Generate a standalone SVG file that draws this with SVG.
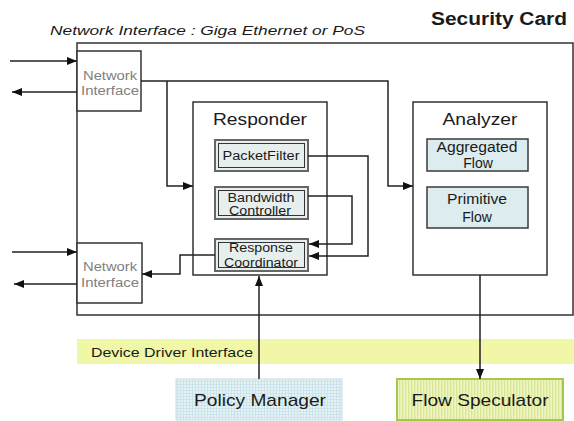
<svg xmlns="http://www.w3.org/2000/svg" width="574" height="421" viewBox="0 0 574 421">
  <style>
    text { font-family: "Liberation Sans", Arial, sans-serif; fill: #1a1a1a; }
    .box { fill: #ffffff; stroke: #333333; stroke-width: 1.5; }
    .ni-label { font-size: 12px; fill: #808080; text-anchor: middle; }
    .title { font-size: 16.5px; text-anchor: middle; }
    .sub-outer { fill: #e6eeee; stroke: #666666; stroke-width: 2; }
    .sub-inner { fill: none; stroke: #333333; stroke-width: 1; }
    .sub-label { font-size: 12px; text-anchor: middle; }
    .flow { fill: #dcecef; stroke: #3a3a3a; stroke-width: 1.5; }
    .flow-label { font-size: 14px; text-anchor: middle; }
    .conn { fill: none; stroke: #222222; stroke-width: 1.5; }
    .ext-label { font-size: 17px; text-anchor: middle; }
  </style>
  <defs>
    <marker id="arrow" viewBox="0 0 10 8" refX="10" refY="4" markerWidth="10" markerHeight="8" markerUnits="userSpaceOnUse" orient="auto">
      <path d="M0,0 L10,4 L0,8 z" fill="#111111"/>
    </marker>
    <pattern id="grid" width="3" height="3" patternUnits="userSpaceOnUse">
      <rect width="3" height="3" fill="#e4f2f5"/>
      <path d="M0,0.5 H3 M0.5,0 V3" stroke="#bfdde4" stroke-width="0.6"/>
    </pattern>
    <pattern id="stripes" width="3" height="3" patternUnits="userSpaceOnUse">
      <rect width="3" height="3" fill="#eef5c0"/>
      <path d="M0.75,0 V3" stroke="#c9dc78" stroke-width="0.8"/>
    </pattern>
  </defs>

  <!-- headings -->
  <text x="50" y="35" font-size="13" font-style="italic" fill="#333333" textLength="315" lengthAdjust="spacingAndGlyphs">Network Interface : Giga Ethernet or PoS</text>
  <text x="431" y="25" font-size="18" font-weight="bold" textLength="136" lengthAdjust="spacingAndGlyphs">Security Card</text>

  <!-- security card frame -->
  <g id="security-card">
    <rect class="box" x="77" y="43" width="496" height="272"/>
  </g>

  <!-- device driver interface band -->
  <g id="device-driver-interface">
    <rect x="77" y="339" width="497" height="25" fill="#f0f7a6"/>
    <text x="91" y="357" font-size="13.5" textLength="162" lengthAdjust="spacingAndGlyphs">Device Driver Interface</text>
  </g>

  <g id="network-interface-top">
    <rect class="box" x="77" y="51" width="64" height="60"/>
    <text class="ni-label" x="110" y="80" textLength="54" lengthAdjust="spacingAndGlyphs">Network</text>
    <text class="ni-label" x="110" y="95" textLength="58" lengthAdjust="spacingAndGlyphs">Interface</text>
  </g>

  <g id="network-interface-bottom">
    <rect class="box" x="77" y="243" width="65" height="60"/>
    <text class="ni-label" x="110" y="271" textLength="54" lengthAdjust="spacingAndGlyphs">Network</text>
    <text class="ni-label" x="110" y="287" textLength="58" lengthAdjust="spacingAndGlyphs">Interface</text>
  </g>

  <g id="responder">
    <rect class="box" x="193" y="102" width="134" height="173"/>
    <text class="title" x="260" y="125" textLength="94" lengthAdjust="spacingAndGlyphs">Responder</text>
  </g>

  <g id="packet-filter">
    <rect class="sub-outer" x="215" y="140" width="93" height="31"/>
    <rect class="sub-inner" x="218.5" y="143.5" width="86" height="24"/>
    <text class="sub-label" x="261" y="159.5" textLength="77" lengthAdjust="spacingAndGlyphs">PacketFilter</text>
  </g>

  <g id="bandwidth-controller">
    <rect class="sub-outer" x="215" y="187" width="93" height="32"/>
    <rect class="sub-inner" x="218.5" y="190.5" width="86" height="25"/>
    <text class="sub-label" x="261" y="201.5" textLength="67" lengthAdjust="spacingAndGlyphs">Bandwidth</text>
    <text class="sub-label" x="260" y="214.5" textLength="62" lengthAdjust="spacingAndGlyphs">Controller</text>
  </g>

  <g id="response-coordinator">
    <rect class="sub-outer" x="215" y="239" width="93" height="32"/>
    <rect class="sub-inner" x="218.5" y="242.5" width="86" height="25"/>
    <text class="sub-label" x="261" y="251.5" textLength="64" lengthAdjust="spacingAndGlyphs">Response</text>
    <text class="sub-label" x="261" y="267" textLength="74" lengthAdjust="spacingAndGlyphs">Coordinator</text>
  </g>

  <g id="analyzer">
    <rect class="box" x="413" y="102" width="134" height="173"/>
    <text class="title" x="480" y="125" textLength="75" lengthAdjust="spacingAndGlyphs">Analyzer</text>
  </g>

  <g id="aggregated-flow">
    <rect class="flow" x="427" y="139" width="101" height="32"/>
    <text class="flow-label" x="477" y="152" textLength="81" lengthAdjust="spacingAndGlyphs">Aggregated</text>
    <text class="flow-label" x="478" y="168">Flow</text>
  </g>

  <g id="primitive-flow">
    <rect class="flow" x="427" y="187" width="101" height="41"/>
    <text class="flow-label" x="477" y="204" textLength="60" lengthAdjust="spacingAndGlyphs">Primitive</text>
    <text class="flow-label" x="477" y="222">Flow</text>
  </g>

  <g id="policy-manager">
    <rect x="176" y="379" width="166" height="41" fill="url(#grid)" stroke="#c4e0e8" stroke-width="1"/>
    <text class="ext-label" x="260" y="406" textLength="132" lengthAdjust="spacingAndGlyphs">Policy Manager</text>
  </g>

  <g id="flow-speculator">
    <rect x="397" y="379" width="166" height="41" fill="url(#stripes)" stroke="#a6c84a" stroke-width="2"/>
    <text class="ext-label" x="480" y="406" textLength="137" lengthAdjust="spacingAndGlyphs">Flow Speculator</text>
  </g>

  <g id="connectors">
    <path class="conn" d="M10,61 H77" marker-end="url(#arrow)"/>
    <path class="conn" d="M77,92 H12" marker-end="url(#arrow)"/>
    <path class="conn" d="M141,81 H388 V186 H413" marker-end="url(#arrow)"/>
    <path class="conn" d="M167,81 V186 H193" marker-end="url(#arrow)"/>
    <path class="conn" d="M12,252 H77" marker-end="url(#arrow)"/>
    <path class="conn" d="M77,284 H14" marker-end="url(#arrow)"/>
    <path class="conn" d="M215,255 H180 V274 H142" marker-end="url(#arrow)"/>
    <path class="conn" d="M308,156 H368 V256 H309" marker-end="url(#arrow)"/>
    <path class="conn" d="M308,196 H352 V244 H309" marker-end="url(#arrow)"/>
    <path class="conn" d="M259,379 V276" marker-end="url(#arrow)"/>
    <path class="conn" d="M480,275 V379" marker-end="url(#arrow)"/>
  </g>
</svg>
